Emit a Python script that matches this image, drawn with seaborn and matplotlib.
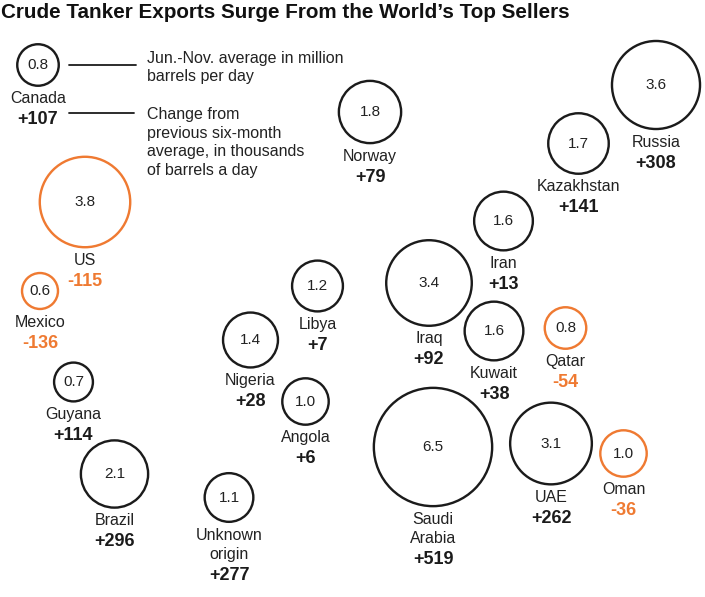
import numpy as np
import pandas as pd
import matplotlib
matplotlib.use("Agg")
import matplotlib.pyplot as plt
import seaborn as sns

# values
countries = ['Canada', 'US', 'Mexico', 'Guyana', 'Brazil', 'Unknown\norigin',
             'Nigeria', 'Libya', 'Angola', 'Norway', 'Iraq', 'Iran', 'Kuwait',
             'Qatar', 'Saudi\nArabia', 'UAE', 'Oman', 'Kazakhstan', 'Russia']
exports_mbd = [0.8, 3.8, 0.6, 0.7, 2.1, 1.1, 1.4, 1.2, 1.0, 1.8, 3.4, 1.6, 1.6,
               0.8, 6.5, 3.1, 1.0, 1.7, 3.6]
change_kbd = [107, -115, -136, 114, 296, 277, 28, 7, 6, 79, 92, 13, 38,
              -54, 519, 262, -36, 141, 308]
# layout of the bubbles (pixel grid of the graphic, y grows downward)
map_x = [38, 85, 40, 73.5, 114.5, 229, 250.5, 317.5, 305.5, 370, 429, 503.5,
         494, 565.5, 433, 551, 623.5, 578.5, 656]
map_y = [65, 202, 291, 382, 474, 497.5, 340, 286, 401.5, 112, 283, 221, 331,
         328, 447, 443.5, 453.5, 143.5, 85]

df = pd.DataFrame({'country': countries, 'exports': exports_mbd,
                   'change': change_kbd, 'x': map_x, 'y': map_y})
df['direction'] = np.where(df['change'] > 0, 'gain', 'loss')

DARK = '#1b1b1b'
ORANGE = '#ef7a32'
W, H, DPI = 705, 597, 100
PX_PER_SQRT = 23.2          # bubble radius in px per sqrt(million b/d)
LW_PX = 2.4

sns.set_theme(style="white")
plt.rcParams['font.family'] = ['Liberation Sans', 'DejaVu Sans']

fig = plt.figure(figsize=(W / DPI, H / DPI), dpi=DPI)
ax = fig.add_axes([0, 0, 1, 1])
ax.set_xlim(0, W)
ax.set_ylim(H, 0)
ax.axis('off')

# marker area proportional to exports (size in pt^2)
smax = (2 * PX_PER_SQRT * np.sqrt(6.5) * 72 / DPI) ** 2
sns.scatterplot(data=df, x='x', y='y', size='exports', sizes=(0, smax),
                size_norm=(0, 6.5), hue='direction',
                palette={'gain': DARK, 'loss': ORANGE},
                linewidth=LW_PX * 72 / DPI, legend=False, ax=ax, zorder=3)
pts = ax.collections[0]
pts.set_edgecolors(pts.get_facecolors())
pts.set_facecolors('none')

for _, row in df.iterrows():
    r = PX_PER_SQRT * np.sqrt(row['exports']) + LW_PX / 2
    ax.text(row['x'], row['y'], f"{row['exports']:.1f}", ha='center', va='center',
            fontsize=11, color='#222222')
    y0 = row['y'] + r + 12
    lines = row['country'].split('\n')
    for i, line in enumerate(lines):
        ax.text(row['x'], y0 + i * 19.5, line, ha='center', va='center',
                fontsize=11.5, color='#222222')
    col = DARK if row['change'] > 0 else ORANGE
    ax.text(row['x'], y0 + (len(lines) - 1) * 19.5 + 21, f"{row['change']:+d}",
            ha='center', va='center', fontsize=13, fontweight='bold', color=col)

# key for the Canada bubble
ax.plot([69, 136], [65, 65], color=DARK, lw=1.3)
ax.plot([69, 134], [113, 113], color=DARK, lw=1.3)
ax.text(147, 67.5, 'Jun.-Nov. average in million\nbarrels per day', ha='left',
        va='center', fontsize=11.5, color='#222222', linespacing=1.3)
ax.text(147, 142.5, 'Change from\nprevious six-month\naverage, in thousands\nof barrels a day',
        ha='left', va='center', fontsize=11.5, color='#222222', linespacing=1.3)

ax.text(1, 12, 'Crude Tanker Exports Surge From the World\u2019s Top Sellers',
        ha='left', va='center', fontsize=14.9, fontweight='bold', color='#111111')

fig.savefig('out.png', dpi=DPI)
